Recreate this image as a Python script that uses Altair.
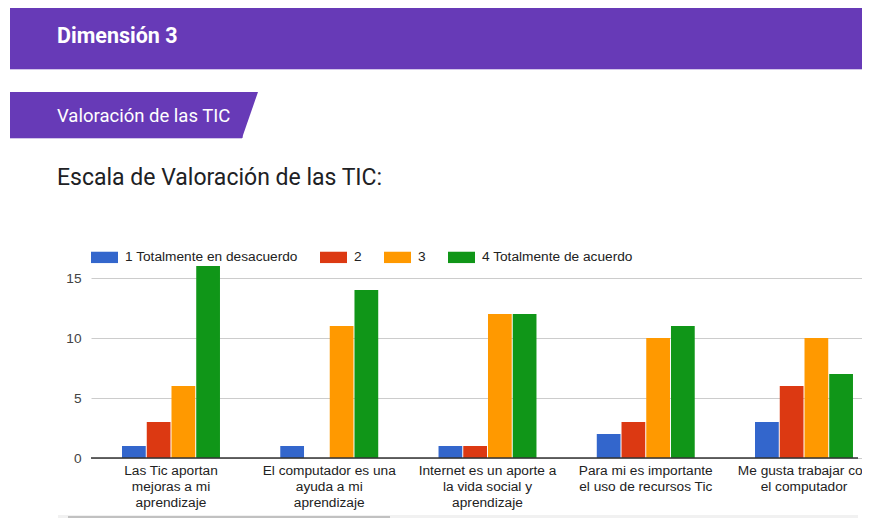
import altair as alt
import pandas as pd

# ---- data ----
categories = [
    "Las Tic aportan|mejoras a mi|aprendizaje",
    "El computador es una|ayuda a mi|aprendizaje",
    "Internet es un aporte a|la vida social y|aprendizaje",
    "Para mi es importante|el uso de recursos Tic",
    "Me gusta trabajar con|el computador",
]
series = ["1 Totalmente en desacuerdo", "2", "3", "4 Totalmente de acuerdo"]
colors = ["#3366cc", "#dc3912", "#ff9900", "#109618"]
vals_1 = [1, 1, 1, 2, 3]
vals_2 = [3, 0, 1, 3, 6]
vals_3 = [6, 11, 12, 10, 10]
vals_4 = [16, 14, 12, 11, 7]
y_ticks = [0, 5, 10, 15]

header_text = "Dimensión 3"
tab_text = "Valoración de las TIC"
question_text = "Escala de Valoración de las TIC:"

rows = []
for s, vals in zip(series, [vals_1, vals_2, vals_3, vals_4]):
    for c, v in zip(categories, vals):
        rows.append({"cat": c, "serie": s, "valor": v})
df = pd.DataFrame(rows)
one = pd.DataFrame({"k": [0]})

CHART_FONT = "Arial, 'Liberation Sans', sans-serif"
FS = 13.7
PURPLE = "#673ab7"
LAVENDER = "#d1c4e9"

bars = alt.Chart(df).mark_bar().encode(
    x=alt.X(
        "cat:N",
        sort=categories,
        scale=alt.Scale(range=[0, 793], paddingInner=0.381, paddingOuter=0.196),
        axis=alt.Axis(
            title=None,
            labelExpr="split(datum.label, '|')",
            labelAngle=0,
            labelFont=CHART_FONT,
            labelFontSize=FS,
            labelColor="#222222",
            labelLineHeight=16,
            labelPadding=5,
            labelOverlap=False,
            labelLimit=200,
            ticks=False,
            tickSize=0,
            domain=False,
        ),
    ),
    xOffset=alt.XOffset(
        "serie:N", sort=series, scale=alt.Scale(paddingInner=0.04, paddingOuter=0)
    ),
    y=alt.Y(
        "valor:Q",
        scale=alt.Scale(domain=[0, 16], nice=False),
        axis=alt.Axis(
            title=None,
            values=y_ticks,
            labelFont=CHART_FONT,
            labelFontSize=FS,
            labelColor="#444444",
            labelPadding=10,
            ticks=False,
            domain=False,
            gridColor="#cccccc",
            gridWidth=1,
        ),
    ),
    color=alt.Color(
        "serie:N",
        sort=series,
        scale=alt.Scale(domain=series, range=colors),
        legend=alt.Legend(
            title=None,
            orient="none",
            direction="horizontal",
            columns=4,
            legendX=0,
            legendY=-22.5,
            symbolType="M-1,-0.42H1V0.42H-1Z",
            symbolSize=729,
            symbolStrokeWidth=0,
            symbolOpacity=1,
            labelFont=CHART_FONT,
            labelFontSize=FS,
            labelColor="#222222",
            labelOffset=7,
            columnPadding=22,
            labelLimit=300,
        ),
    ),
)

baseline = alt.Chart(one).mark_rule(color="#333333", strokeWidth=1.5).encode(
    y=alt.datum(0)
)

# ---- page decorations (Google Forms look) ----
header = alt.Chart(one).mark_rect(color=PURPLE).encode(
    x=alt.value(-81), x2=alt.value(779), y=alt.value(-258), y2=alt.value(-197)
)
header_line = alt.Chart(one).mark_rule(color=LAVENDER, strokeWidth=1).encode(
    x=alt.value(-81), x2=alt.value(779), y=alt.value(-196.5)
)
header_lbl = alt.Chart(one).mark_text(
    text=header_text, font="Roboto", fontSize=21.5, fontWeight="bold", color="white",
    align="left", baseline="alphabetic",
).encode(x=alt.value(-34), y=alt.value(-222.7))

tab = alt.Chart(one).mark_rect(color=PURPLE).encode(
    x=alt.value(-81), x2=alt.value(151.5), y=alt.value(-174), y2=alt.value(-128)
)
tab_tri = alt.Chart(one).mark_point(
    shape="M-1,0L16,0L0,46L-1,46Z", size=4, filled=True, fill=PURPLE,
    opacity=1, strokeWidth=0,
).encode(x=alt.value(151), y=alt.value(-174))
tab_line = alt.Chart(one).mark_rule(color=LAVENDER, strokeWidth=1).encode(
    x=alt.value(-81), x2=alt.value(151), y=alt.value(-127.5)
)
tab_lbl = alt.Chart(one).mark_text(
    text=tab_text, font="Roboto", fontSize=18.5, color="white",
    align="left", baseline="alphabetic",
).encode(x=alt.value(-34), y=alt.value(-144.3))

question = alt.Chart(one).mark_text(
    text=question_text, font="Roboto", fontSize=23, color="#202124",
    align="left", baseline="alphabetic",
).encode(x=alt.value(-34), y=alt.value(-81))

track = alt.Chart(one).mark_rect(color="#f1f1f1").encode(
    x=alt.value(-33), x2=alt.value(767), y=alt.value(249), y2=alt.value(260)
)
thumb = alt.Chart(one).mark_rect(color="#c1c1c1").encode(
    x=alt.value(-23), x2=alt.value(299), y=alt.value(250), y2=alt.value(259)
)

chart = alt.layer(
    header, header_line, header_lbl, tab, tab_tri, tab_line, tab_lbl, question,
    track, thumb, bars, baseline,
).properties(
    width=767,
    height=192,
    background="white",
    autosize=alt.AutoSizeParams(type="none"),
    padding={"left": 83, "top": 258, "right": 4, "bottom": 60},
).configure_view(strokeWidth=0, stroke="transparent")

chart.save("out.html", embed_options={"renderer": "svg", "actions": False})
